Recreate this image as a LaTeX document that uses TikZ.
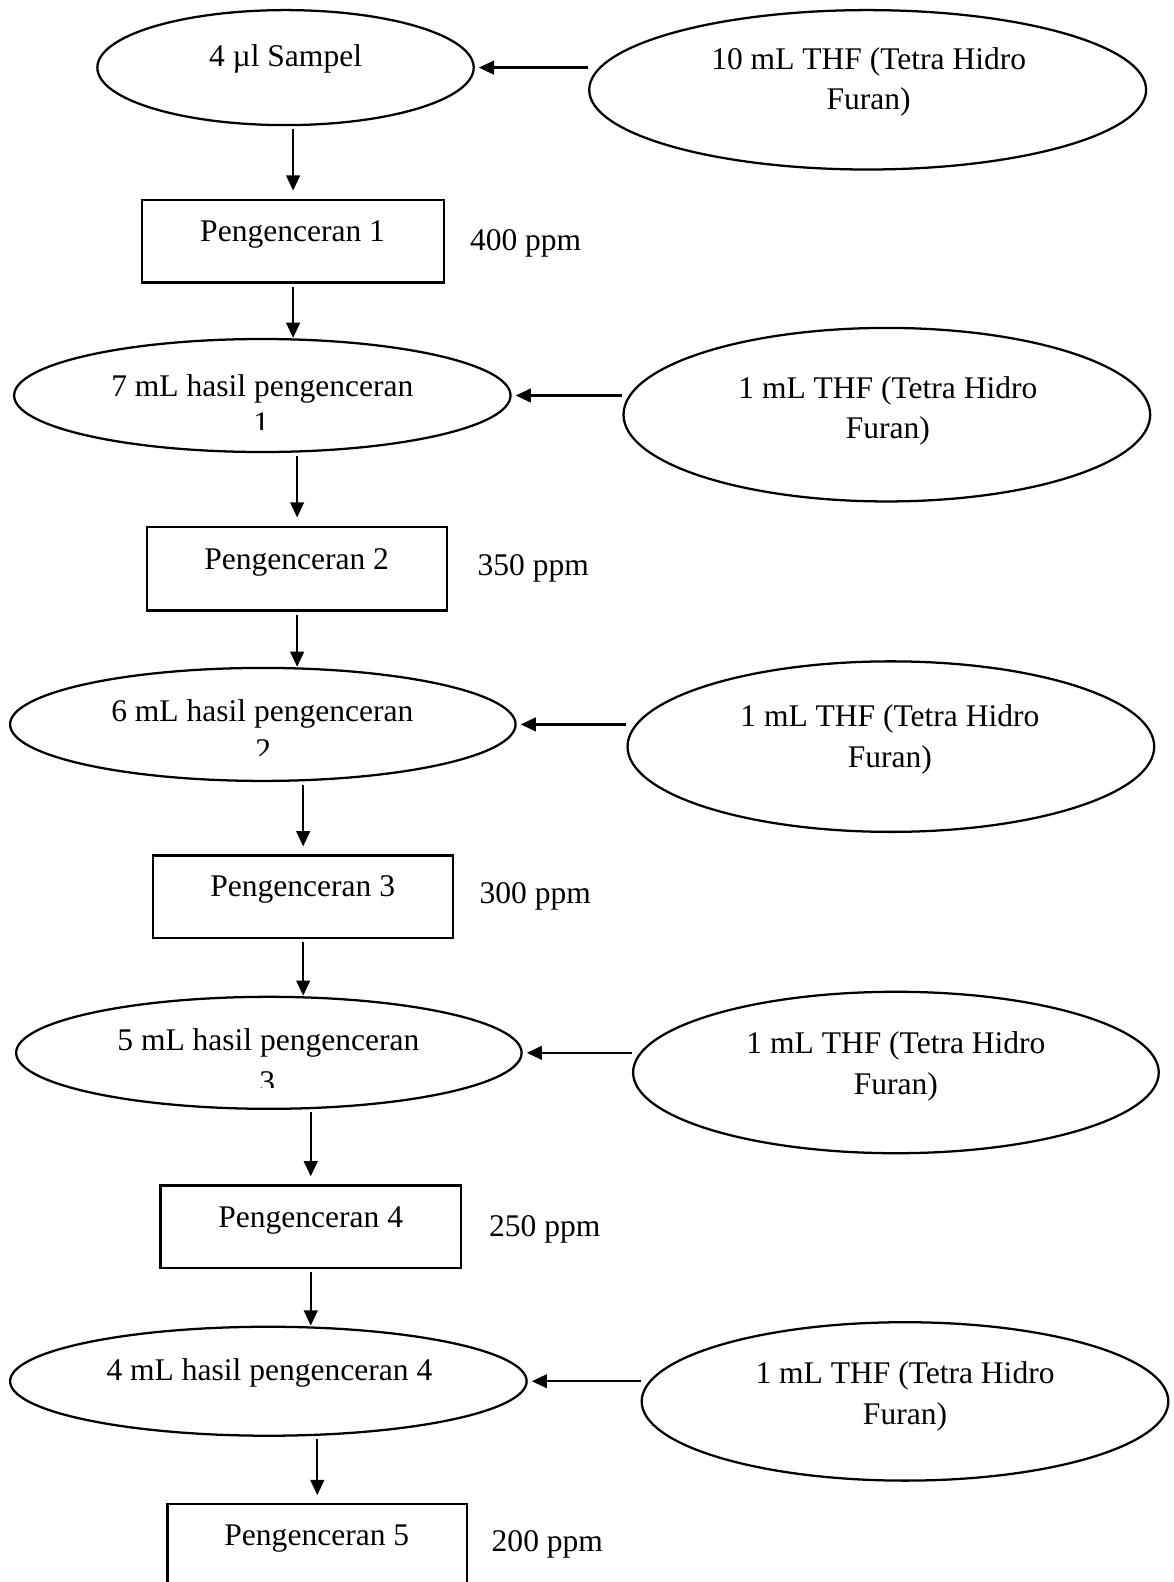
\documentclass[tikz,border=0pt]{standalone}
\usepackage{fontspec}
\setmainfont{Liberation Serif}
\usetikzlibrary{shapes,arrows.meta}
\tikzset{
  garis/.style={line width=0.9pt},
  teks/.style={font=\fontsize{12.5}{16}\selectfont, align=center, inner sep=0, yshift=-1.2pt},
  panah/.style={garis, -{Triangle[length=6pt,width=5.4pt]}},
}
\newcommand{\elips}[5]{\node[ellipse, draw, garis, inner sep=0, minimum width=#4*0.4pt, minimum height=#5*0.4pt] (#1) at (#2,#3) {};}
\newcommand{\kotak}[5]{\node[rectangle, draw, garis, inner sep=0, minimum width=#4*0.4pt, minimum height=#5*0.4pt] (#1) at (#2,#3) {};}
\newcommand{\potong}[5]{
  \begin{scope}
    \clip (#2-30,#3-15) rectangle (#2+30,#4);
    \node[teks] (#1) at (#2,#3) {#5};
  \end{scope}
}

\begin{document}
\begin{tikzpicture}[x=0.4pt, y=-0.4pt]
  \useasboundingbox (0,0) rectangle (1163,1568);

  % Sampel
  % ======
  \elips{sampel}{283}{67}{373}{114}
  \node[teks] (sampelt) at (283,55) {4 µl Sampel};
  \elips{thf1}{860}{89}{552}{158}
  \node[teks] (thf1t) at (861,78) {10 mL THF (Tetra Hidro\\Furan)};

  % Pengenceran 1
  % -------------
  \kotak{p1}{290.5}{239}{299}{82}
  \node[teks] (p1t) at (290,229) {Pengenceran 1};
  \node[teks] (ppm1) at (521,238) {400 ppm};

  \elips{h1}{260}{392}{492}{112}
  \node[teks] (h1t) at (260,383) {7 mL hasil pengenceran};
  \potong{h1n}{259}{416}{426}{1}
  \elips{thf2}{879}{411}{522}{172}
  \node[teks] (thf2t) at (880,404) {1 mL THF (Tetra Hidro\\Furan)};

  % Pengenceran 2
  % -------------
  \kotak{p2}{294.5}{563.5}{297}{83}
  \node[teks] (p2t) at (294,554) {Pengenceran 2};
  \node[teks] (ppm2) at (528.5,560) {350 ppm};

  \elips{h2}{260.5}{718}{501}{112}
  \node[teks] (h2t) at (260,705) {6 mL hasil pengenceran};
  \potong{h2n}{261}{740}{749}{2}
  \elips{thf3}{883}{740}{522}{169}
  \node[teks] (thf3t) at (882,730) {1 mL THF (Tetra Hidro\\Furan)};

  % Pengenceran 3
  % -------------
  \kotak{p3}{300.5}{889}{297}{82}
  \node[teks] (p3t) at (300,879) {Pengenceran 3};
  \node[teks] (ppm3) at (530.5,885) {300 ppm};

  \elips{h3}{266.5}{1043.5}{501}{111}
  \node[teks] (h3t) at (266,1031) {5 mL hasil pengenceran};
  \potong{h3n}{265}{1070}{1078}{3}
  \elips{thf4}{888}{1063}{521}{160}
  \node[teks] (thf4t) at (888,1054) {1 mL THF (Tetra Hidro\\Furan)};

  % Pengenceran 4
  % -------------
  \kotak{p4}{308}{1216}{298}{82}
  \node[teks] (p4t) at (308,1207) {Pengenceran 4};
  \node[teks] (ppm4) at (540,1215) {250 ppm};

  \elips{h4}{266}{1369}{512}{108}
  \node[teks] (h4t) at (267,1358) {4 mL hasil pengenceran 4};
  \elips{thf5}{897}{1389}{522}{157}
  \node[teks] (thf5t) at (897,1381) {1 mL THF (Tetra Hidro\\Furan)};

  % Pengenceran 5
  % -------------
  \kotak{p5}{314.5}{1532}{297}{82}
  \node[teks] (p5t) at (314,1522) {Pengenceran 5};
  \node[teks] (ppm5) at (542.5,1528) {200 ppm};

  % Panah
  % =====
  \foreach \t/\h in {thf1/sampel, thf2/h1, thf3/h2, thf4/h3, thf5/h4}
  \draw[panah, shorten >=1.6pt] (\t.west |- \h) -- (\h.east);

  \foreach \h/\p in {sampel/p1, h1/p2, h2/p3, h3/p4, h4/p5}
  \draw[panah, shorten <=1pt, shorten >=3.2pt] (\h.south -| \p) -- (\p.north);

  \foreach \p/\h in {p1/h1, p2/h2, p3/h3, p4/h4}
  \draw[panah, shorten <=1.2pt] (\p.south) -- (\p.south |- \h.north);

\end{tikzpicture}
\end{document}
